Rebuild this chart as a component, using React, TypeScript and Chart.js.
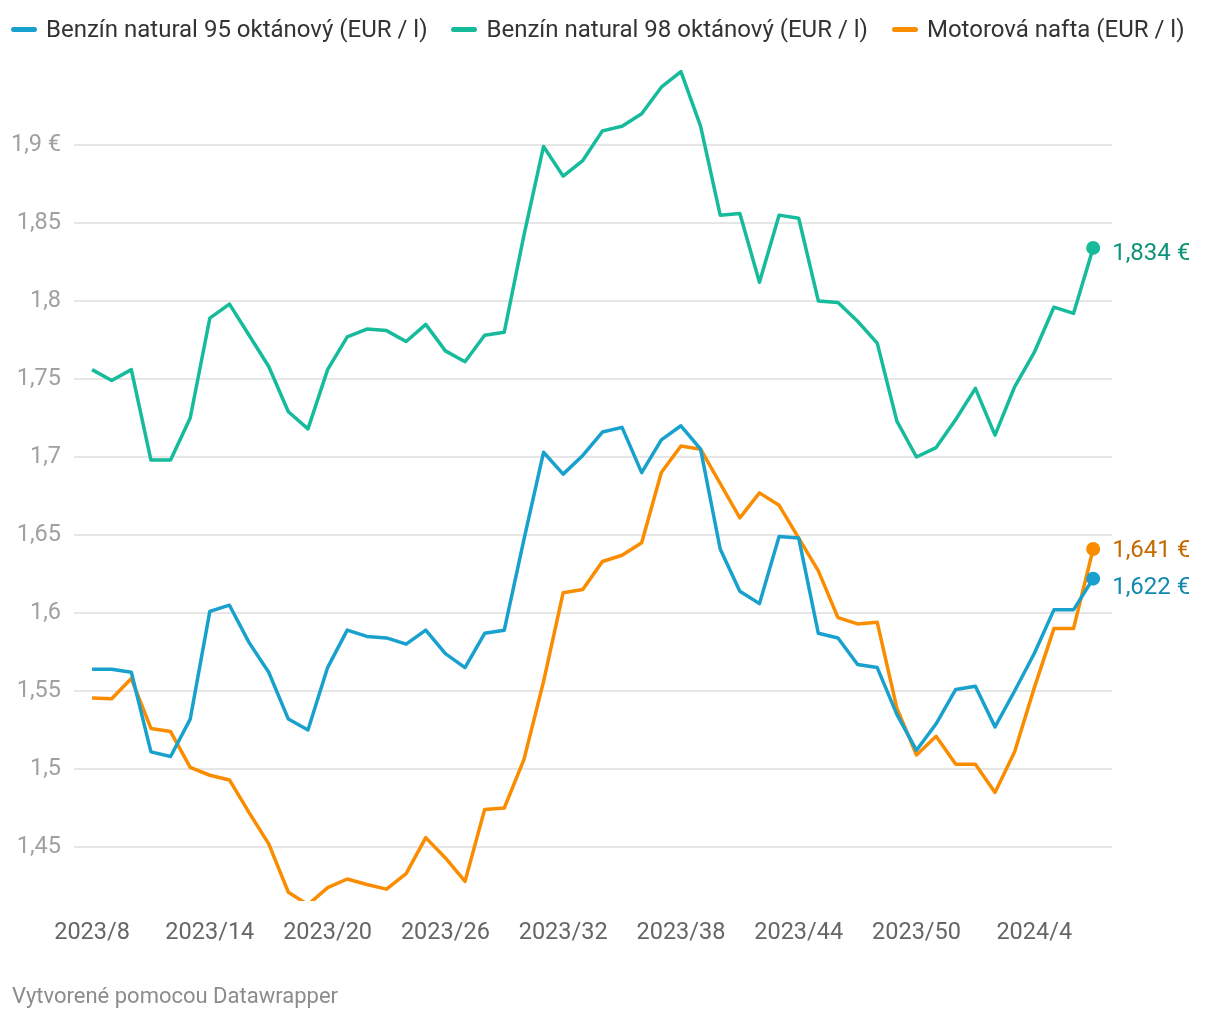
import React, { useEffect, useRef } from "react";
import { Chart, registerables } from "chart.js";

Chart.register(...registerables);

const weekLabels: string[] = [
  "2023/8", "2023/9", "2023/10", "2023/11", "2023/12", "2023/13", "2023/14", "2023/15", "2023/16", "2023/17",
  "2023/18", "2023/19", "2023/20", "2023/21", "2023/22", "2023/23", "2023/24", "2023/25", "2023/26", "2023/27",
  "2023/28", "2023/29", "2023/30", "2023/31", "2023/32", "2023/33", "2023/34", "2023/35", "2023/36", "2023/37",
  "2023/38", "2023/39", "2023/40", "2023/41", "2023/42", "2023/43", "2023/44", "2023/45", "2023/46", "2023/47",
  "2023/48", "2023/49", "2023/50", "2023/51", "2023/52", "2024/1", "2024/2", "2024/3", "2024/4", "2024/5",
  "2024/6", "2024/7",
];

const benzin95: number[] = [
  1.564, 1.564, 1.562, 1.511, 1.508, 1.532, 1.601, 1.605, 1.581, 1.562,
  1.532, 1.525, 1.565, 1.589, 1.585, 1.584, 1.580, 1.589, 1.574, 1.565,
  1.587, 1.589, 1.647, 1.703, 1.689, 1.701, 1.716, 1.719, 1.690, 1.711,
  1.720, 1.705, 1.641, 1.614, 1.606, 1.649, 1.648, 1.587, 1.584, 1.567,
  1.565, 1.535, 1.512, 1.529, 1.551, 1.553, 1.527, 1.550, 1.574, 1.602,
  1.602, 1.622,
];

const benzin98: number[] = [
  1.756, 1.749, 1.756, 1.698, 1.698, 1.725, 1.789, 1.798, 1.778, 1.758,
  1.729, 1.718, 1.756, 1.777, 1.782, 1.781, 1.774, 1.785, 1.768, 1.761,
  1.778, 1.780, 1.842, 1.899, 1.880, 1.890, 1.909, 1.912, 1.920, 1.937,
  1.947, 1.912, 1.855, 1.856, 1.812, 1.855, 1.853, 1.800, 1.799, 1.787,
  1.773, 1.723, 1.700, 1.706, 1.724, 1.744, 1.714, 1.745, 1.767, 1.796,
  1.792, 1.834,
];

const nafta: number[] = [
  1.5455, 1.545, 1.558, 1.526, 1.524, 1.501, 1.496, 1.493, 1.472, 1.452,
  1.421, 1.413, 1.424, 1.4295, 1.426, 1.423, 1.433, 1.456, 1.443, 1.428,
  1.474, 1.475, 1.506, 1.556, 1.613, 1.615, 1.633, 1.637, 1.645, 1.690,
  1.707, 1.705, 1.683, 1.661, 1.677, 1.669, 1.648, 1.627, 1.597, 1.593,
  1.594, 1.539, 1.509, 1.521, 1.503, 1.503, 1.485, 1.511, 1.552, 1.590,
  1.590, 1.641,
];

const seriesNames: string[] = [
  "Benzín natural 95 oktánový (EUR / l)",
  "Benzín natural 98 oktánový (EUR / l)",
  "Motorová nafta (EUR / l)",
];
const seriesColors: string[] = ["#18a1cd", "#15bb9b", "#fa8c00"];
const labelColors: string[] = ["#1489b0", "#0f9479", "#c46a00"];
const endLabels: string[] = ["1,622 €", "1,834 €", "1,641 €"];

const yTicks: number[] = [1.45, 1.5, 1.55, 1.6, 1.65, 1.7, 1.75, 1.8, 1.85, 1.9];
const xTickIdx: number[] = [0, 6, 12, 18, 24, 30, 36, 42, 48];

const FONT = "Roboto, 'Noto Sans', sans-serif";

export default function App() {
  const ref = useRef<HTMLCanvasElement | null>(null);

  useEffect(() => {
    document.body.style.margin = "0";
    const canvas = ref.current;
    if (!canvas) return;
    const all = [benzin95, benzin98, nafta];
    const last = weekLabels.length - 1;

    const endLabelPlugin = {
      id: "endLabels",
      afterDatasetsDraw(chart: any) {
        const ctx = chart.ctx;
        const offsets = [9, 6, 2];
        ctx.save();
        ctx.font = `24px ${FONT}`;
        ctx.textBaseline = "middle";
        ctx.textAlign = "left";
        chart.data.datasets.forEach((_: any, di: number) => {
          const meta = chart.getDatasetMeta(di);
          const pt = meta.data[last];
          if (!pt) return;
          ctx.fillStyle = labelColors[di];
          ctx.fillText(endLabels[di], pt.x + 19, pt.y + offsets[di]);
        });
        ctx.restore();
      },
    };

    const chart = new Chart(canvas, {
      type: "line",
      data: {
        datasets: all.map((vals, di) => ({
          label: seriesNames[di],
          data: vals.map((v, i) => ({ x: i, y: v })),
          borderColor: seriesColors[di],
          backgroundColor: seriesColors[di],
          borderWidth: 3.5,
          tension: 0,
          pointRadius: (c: any) => (c.dataIndex === last ? 7 : 0),
          pointHoverRadius: 0,
          pointBorderWidth: 0,
          borderJoinStyle: "round" as const,
        })),
      },
      options: {
        animation: false,
        responsive: false,
        maintainAspectRatio: false,
        layout: { padding: { top: 61, right: 108, bottom: 0, left: 0 } },
        plugins: {
          legend: { display: false },
          tooltip: { enabled: false },
        },
        scales: {
          x: {
            type: "linear",
            min: -0.92,
            max: 51.96,
            grid: { display: false, drawTicks: false },
            border: { display: false },
            afterBuildTicks: (s: any) => {
              s.ticks = xTickIdx.map((v) => ({ value: v }));
            },
            afterFit: (s: any) => {
              s.height = 119;
            },
            ticks: {
              autoSkip: false,
              maxRotation: 0,
              padding: 18,
              color: "#666666",
              font: { family: FONT, size: 23.5 },
              callback: (v: any) => weekLabels[Number(v)] ?? "",
            },
          },
          y: {
            type: "linear",
            min: 1.4154,
            max: 1.9538,
            grid: { color: "#e6e6e6", lineWidth: 2, drawTicks: false },
            border: { display: false },
            afterBuildTicks: (s: any) => {
              s.ticks = yTicks.map((v) => ({ value: v }));
            },
            afterFit: (s: any) => {
              s.width = 74;
            },
            ticks: {
              padding: 13,
              color: "#a0a0a0",
              font: { family: FONT, size: 23.5 },
              callback: (v: any) => {
                const s = Number(v).toFixed(2).replace(/0$/, "").replace(".", ",");
                return Math.abs(Number(v) - 1.9) < 1e-6 ? s + " €" : s;
              },
            },
          },
        },
      },
      plugins: [endLabelPlugin],
    });
    return () => chart.destroy();
  }, []);

  return (
    <div style={{ position: "relative", width: 1220, height: 1020, background: "#fff", fontFamily: FONT }}>
      <canvas ref={ref} width={1220} height={1020} style={{ position: "absolute", left: 0, top: 0, width: 1220, height: 1020 }} />
      <div style={{ position: "absolute", left: 11, top: 15, display: "flex", alignItems: "center", fontSize: 24, color: "#333333", whiteSpace: "nowrap" }}>
        {seriesNames.map((n, i) => (
          <div key={n} style={{ display: "flex", alignItems: "center", marginRight: 24 }}>
            <span style={{ display: "inline-block", width: 26, height: 5, borderRadius: 3, background: seriesColors[i], marginRight: 9 }} />
            <span>{n}</span>
          </div>
        ))}
      </div>
      <div style={{ position: "absolute", left: 12, top: 983, fontSize: 22, color: "#8c8c8c", whiteSpace: "nowrap" }}>
        Vytvorené pomocou Datawrapper
      </div>
    </div>
  );
}
